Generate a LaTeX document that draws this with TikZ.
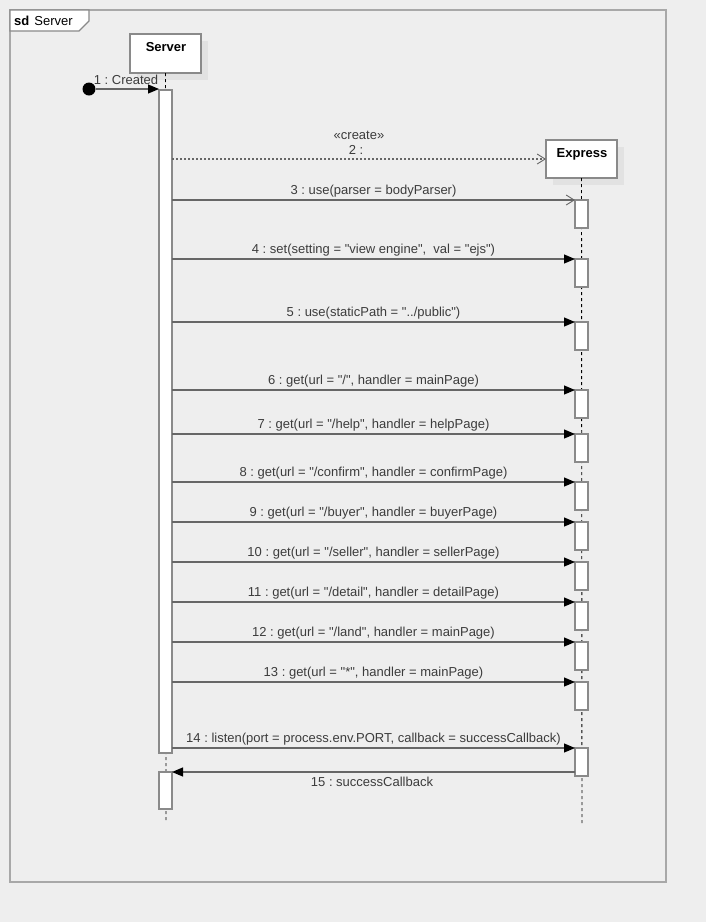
\documentclass[tikz,border=0pt]{standalone}
\usepackage{fontspec}
\setmainfont{Liberation Sans}[Ligatures=TeXOff]
\usetikzlibrary{arrows.meta,calc}
\definecolor{bgc}{HTML}{EEEEEE}
\definecolor{framec}{HTML}{A8A8A8}
\definecolor{boxc}{HTML}{8A8A8A}
\definecolor{shadowc}{HTML}{E2E2E2}
\definecolor{linec}{HTML}{666666}
\definecolor{txtc}{HTML}{3C3C3C}
\frenchspacing
\begin{document}
\begin{tikzpicture}[x=1pt,y=-1pt,
  lbl/.style={font=\fontsize{13}{15}\selectfont, text=txtc, inner sep=0pt, anchor=base},
  namelbl/.style={font=\fontsize{13}{15}\selectfont\bfseries, text=black, inner sep=0pt, anchor=base},
  lifebox/.style={draw=boxc, fill=white, line width=1.3pt, minimum width=71pt, minimum height=39pt, inner sep=0pt, outer sep=0pt, anchor=north west},
  actbox/.style={draw=boxc, fill=white, line width=1.3pt, minimum width=13pt, inner sep=0pt, outer sep=0pt, anchor=north west},
  lifeline/.style={draw=black, line width=0.9pt, dash pattern=on 3pt off 3pt},
  msgline/.style={draw=linec, line width=1.1pt},
  synch/.style={msgline, -{Triangle[length=11pt,width=9pt,color=black]}},
  openarr/.style={msgline, -{Straight Barb[length=8pt,width=10pt,line width=0.9pt]}},
  createarr/.style={msgline, dash pattern=on 2pt off 2pt, -{Straight Barb[length=8pt,width=10pt,line width=0.9pt]}}
]
\useasboundingbox (0,0) rectangle (706,922);
\fill[bgc] (0,0) rectangle (706,922);
% frame
\draw[framec, line width=1.3pt] (10,10) rectangle (666,882);
\draw[boxc, fill=white, line width=1.1pt] (10,10) -- (89,10) -- (89,21) -- (79,31) -- (10,31) -- cycle;
\node[lbl, anchor=base west, text=black] (tag) at (14,25) {\textbf{sd}\hspace{5pt}Server};
% shadows
\fill[shadowc] (137,41) rectangle (208,80);
\fill[shadowc] (553,147) rectangle (624,185);
% lifeline heads
\node[lifebox] (srv) at (130,34) {};
\node[namelbl] (srvname) at (166,51) {Server};
\node[lifebox, minimum height=38pt] (exp) at (546,140) {};
\node[namelbl] (expname) at (582,157) {Express};
% lifelines
\coordinate (srvend) at (166,820);
\coordinate (expend) at (582,823);
\draw[lifeline] (srv.south) -- (srvend);
\draw[lifeline] (exp.south) -- (expend);
% activations Server
\node[actbox, minimum height=663pt] (sa) at (159,90) {};
\node[actbox, minimum height=37pt] (sb) at (159,772) {};
% activations Express
\foreach \n/\y in {3/200,4/259,5/322,6/390,7/434,8/482,9/522,10/562,11/602,12/642,13/682}{
  \node[actbox, minimum height=28pt] (e\n) at (575,\y) {};
}
\node[actbox, minimum height=28pt] (e14) at (575,748) {};
% found message 1
\fill[black] (89,89) circle (6.5pt);
\node[circle, inner sep=0pt, minimum size=13pt] (found) at (89,89) {};
\draw[synch] (found.east) -- (sa.north west |- found.east);
\node[lbl] (l1) at (126,84) {1 : Created};
% message 2 create
\draw[createarr] (sa.east |- exp.west) -- (exp.west);
\node[lbl] (l2a) at (359,139) {«create»};
\node[lbl] (l2b) at (356,154) {2 :};
% message 3
\draw[openarr] (sa.east |- e3.north west) -- (e3.north west);
\node[lbl] (l3) at (373.5,194) {3 : use(parser = bodyParser)};
% synch messages
\foreach \n/\t in {
  4/{4 : set(setting = "view engine",\ \ val = "ejs")},
  5/{5 : use(staticPath = "../public")},
  6/{6 : get(url = "/", handler = mainPage)},
  7/{7 : get(url = "/help", handler = helpPage)},
  8/{8 : get(url = "/confirm", handler = confirmPage)},
  9/{9 : get(url = "/buyer", handler = buyerPage)},
  10/{10 : get(url = "/seller", handler = sellerPage)},
  11/{11 : get(url = "/detail", handler = detailPage)},
  12/{12 : get(url = "/land", handler = mainPage)},
  13/{13 : get(url = "*", handler = mainPage)},
  14/{14 : listen(port = process.env.PORT, callback = successCallback)}}{
  \draw[synch] (sa.east |- e\n.north west) -- (e\n.north west);
  \node[lbl, yshift=6pt] (l\n) at ($(sa.east |- e\n.north west)!0.5!(e\n.north west)$) {\t};
}
% message 15
\draw[synch] (e14.west |- sb.north) -- (sb.north east);
\node[lbl] (l15) at (372,786) {15 : successCallback};
\end{tikzpicture}
\end{document}
